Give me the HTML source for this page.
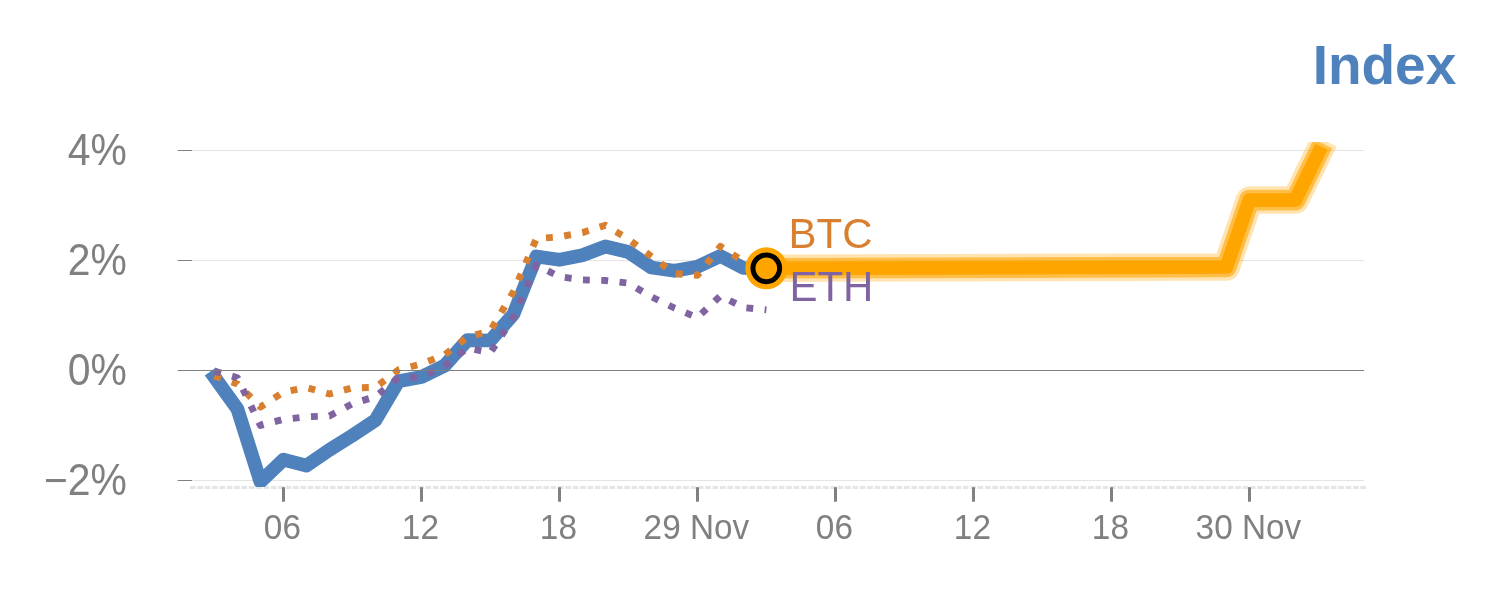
<!DOCTYPE html>
<html><head><meta charset="utf-8"><title>Index</title>
<style>
html,body{margin:0;padding:0;background:#fff;}
svg{display:block}
text{font-family:"Liberation Sans",Arial,sans-serif;}
</style></head><body>
<svg width="1500" height="600" viewBox="0 0 1500 600">
<rect width="1500" height="600" fill="#fff"/>
<defs><clipPath id="plot"><rect x="192" y="142" width="1172" height="345.0"/></clipPath></defs>
<!-- grid -->
<g stroke="#e4e4e4" stroke-width="1" fill="none">
<path d="M192 150.5H1364"/><path d="M192 260.5H1364"/><path d="M192 480.5H1364"/>
</g>
<!-- y ticks -->
<g stroke="#808080" stroke-width="1" fill="none">
<path d="M177.6 150.5H192"/><path d="M177.6 260.5H192"/><path d="M177.6 370.5H192"/><path d="M177.6 480.5H192"/>
</g>
<!-- domain -->
<path d="M190 487.45H1366" stroke="#e5e5e5" stroke-width="2.9" stroke-dasharray="5.6 1.761" fill="none"/>
<!-- x ticks -->
<g stroke="#808080" stroke-width="3" fill="none">
<path d="M283.5 487.2V501.7"/><path d="M421.5 487.2V501.7"/><path d="M559.5 487.2V501.7"/><path d="M697.5 487.2V501.7"/><path d="M835.5 487.2V501.7"/><path d="M973.5 487.2V501.7"/><path d="M1111.5 487.2V501.7"/><path d="M1249.5 487.2V501.7"/>
</g>
<!-- y labels -->
<g fill="#808080" font-size="41.3" text-anchor="end">
<text transform="translate(126.9 165.0) scale(0.99 1.055)">4%</text><text transform="translate(126.9 275.0) scale(0.99 1.055)">2%</text><text transform="translate(126.9 385.0) scale(0.99 1.055)">0%</text><text transform="translate(126.9 495.0) scale(0.99 1.055)">−2%</text>
</g>
<!-- x labels -->
<g fill="#808080" font-size="33" text-anchor="middle">
<text transform="translate(282.4 538.7) scale(1.01 1.045)">06</text><text transform="translate(420.4 538.7) scale(1.01 1.045)">12</text><text transform="translate(558.4 538.7) scale(1.01 1.045)">18</text><text transform="translate(696.4 538.7) scale(1.01 1.045)">29 Nov</text><text transform="translate(834.4 538.7) scale(1.01 1.045)">06</text><text transform="translate(972.4 538.7) scale(1.01 1.045)">12</text><text transform="translate(1110.4 538.7) scale(1.01 1.045)">18</text><text transform="translate(1248.4 538.7) scale(1.01 1.045)">30 Nov</text>
</g>
<!-- lines -->
<g clip-path="url(#plot)" fill="none">
<path d="M214.4 377.1 L237.4 409.0 L260.4 481.7 L283.4 459.7 L306.4 465.6 L329.4 449.8 L352.4 435.5 L375.4 420.3 L398.4 381.2 L421.4 377.0 L444.4 365.8 L467.4 340.2 L490.4 340.5 L513.4 314.3 L536.4 256.5 L559.4 259.8 L582.4 255.2 L605.4 246.5 L628.4 252.0 L651.4 267.5 L674.4 270.8 L697.4 266.7 L720.4 256.0 L743.4 268.0 L766.4 268.3" stroke="#4f81bd" stroke-width="13.75" stroke-linejoin="round" stroke-linecap="square"/>
<path d="M214.4 376.0 L237.4 383.9 L260.4 407.0 L283.4 392.1 L306.4 387.5 L329.4 394.0 L352.4 387.9 L375.4 387.4 L398.4 369.9 L421.4 363.9 L444.4 355.1 L467.4 337.2 L490.4 330.7 L513.4 291.8 L536.4 238.5 L559.4 236.9 L582.4 232.6 L605.4 225.3 L628.4 239.1 L651.4 256.4 L674.4 273.6 L697.4 275.4 L720.4 246.4 L743.4 261.3 L766.4 268.0" stroke="#d98030" stroke-width="6.875" stroke-dasharray="6.875 11.4583" stroke-linejoin="round"/>
<path d="M214.4 371.1 L237.4 377.7 L260.4 425.4 L283.4 419.4 L306.4 416.8 L329.4 416.0 L352.4 403.7 L375.4 396.7 L398.4 377.8 L421.4 376.9 L444.4 366.1 L467.4 348.0 L490.4 352.7 L513.4 317.4 L536.4 265.1 L559.4 276.7 L582.4 279.9 L605.4 280.5 L628.4 283.2 L651.4 296.8 L674.4 308.0 L697.4 317.6 L720.4 295.8 L743.4 307.5 L766.4 309.8" stroke="#8064a2" stroke-width="6.875" stroke-dasharray="6.875 11.4583" stroke-linejoin="round"/>
<path d="M766.4 268.3 L1226.4 267.0 L1249.4 200.1 L1295.4 200.1 L1318.4 152.9" stroke="#ffa500" stroke-opacity="0.3" stroke-width="27.5" stroke-linejoin="round" stroke-linecap="square"/>
<path d="M766.4 268.3 L1226.4 267.0 L1249.4 200.1 L1295.4 200.1 L1318.4 152.9" stroke="#ffa500" stroke-opacity="0.6" stroke-width="20.6" stroke-linejoin="round" stroke-linecap="square"/>
<path d="M766.4 268.3 L1226.4 267.0 L1249.4 200.1 L1295.4 200.1 L1318.4 152.9" stroke="#ffa500" stroke-width="13.75" stroke-linejoin="round" stroke-linecap="square"/>
</g>
<!-- zero line -->
<path d="M192 370.5H1364" stroke="#808080" stroke-width="1" fill="none"/>
<!-- point -->
<circle cx="766.3" cy="268.3" r="21" fill="#ffa500"/>
<circle cx="766.3" cy="268.3" r="13.35" fill="#ffa500" stroke="#000" stroke-width="5"/>
<!-- labels -->
<text transform="translate(788.6 247.9) scale(1 1.03)" font-size="42" fill="#d98030">BTC</text>
<text transform="translate(789.4 300.9) scale(1 1.03)" font-size="42" fill="#8064a2">ETH</text>
<!-- title -->
<text x="1456.3" y="83.75" font-size="55" font-weight="bold" fill="#4f81bd" text-anchor="end">Index</text>
</svg>
</body></html>
